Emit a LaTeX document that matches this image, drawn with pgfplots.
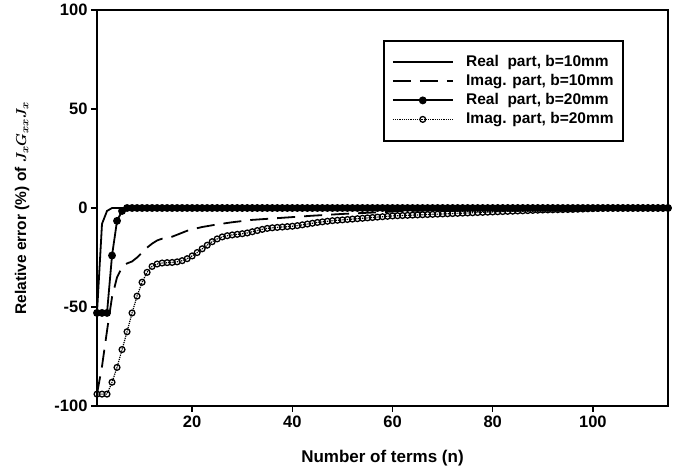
\documentclass[border=0pt]{standalone}
\usepackage{fontspec}
\setmainfont{Liberation Sans}
\usepackage{pgfplots}
\pgfplotsset{compat=1.18}
\usepackage{pgfplotstable}

% Real part (r20) and imaginary part (i20) for b=20mm, one row per term n
\pgfplotstableread{
n r20 i20
1 -53 -94
2 -53 -94
3 -53 -94
4 -24 -88
5 -6.5 -80.5
6 -1.5 -71.5
7 0 -62.5
8 0 -53
9 0 -44.5
10 0 -37.5
11 0 -32.5
12 0 -29.5
13 0 -28.3
14 0 -27.8
15 0 -27.6
16 0 -27.5
17 0 -27.2
18 0 -26.6
19 0 -25.6
20 0 -24.2
21 0 -22.5
22 0 -20.6
23 0 -18.8
24 0 -17.0
25 0 -15.6
26 0 -14.6
27 0 -14.0
28 0 -13.6
29 0 -13.3
30 0 -13.0
31 0 -12.6
32 0 -12.0
33 0 -11.4
34 0 -10.8
35 0 -10.3
36 0 -10.0
37 0 -9.8
38 0 -9.6
39 0 -9.4
40 0 -9.2
41 0 -8.9
42 0 -8.5
43 0 -8.1
44 0 -7.7
45 0 -7.3
46 0 -7.0
47 0 -6.7
48 0 -6.4
49 0 -6.2
50 0 -6.0
51 0 -5.8
52 0 -5.6
53 0 -5.4
54 0 -5.2
55 0 -5.0
56 0 -4.8
57 0 -4.6
58 0 -4.4
59 0 -4.2
60 0 -4.0
61 0 -3.9
62 0 -3.8
63 0 -3.7
64 0 -3.6
65 0 -3.5
66 0 -3.4
67 0 -3.3
68 0 -3.2
69 0 -3.1
70 0 -3.0
71 0 -2.9
72 0 -2.8
73 0 -2.7
74 0 -2.6
75 0 -2.5
76 0 -2.4
77 0 -2.3
78 0 -2.2
79 0 -2.1
80 0 -2.0
81 0 -1.9
82 0 -1.8
83 0 -1.7
84 0 -1.6
85 0 -1.5
86 0 -1.4
87 0 -1.3
88 0 -1.2
89 0 -1.1
90 0 -1.0
91 0 -0.95
92 0 -0.9
93 0 -0.85
94 0 -0.8
95 0 -0.75
96 0 -0.7
97 0 -0.6
98 0 -0.5
99 0 -0.4
100 0 -0.3
101 0 -0.2
102 0 -0.1
103 0 0
104 0 0
105 0 0
106 0 0
107 0 0
108 0 0
109 0 0
110 0 0
111 0 0
112 0 0
113 0 0
114 0 0
115 0 0
}\dataB

\begin{document}
\begin{tikzpicture}
\begin{axis}[
  scale only axis, width=571pt, height=396pt,
  xmin=1, xmax=115, ymin=-100, ymax=100,
  xtick={20,40,60,80,100}, ytick={-100,-50,0,50,100},
  tick align=outside, tick pos=left, major tick length=6pt,
  axis line style={line width=1.6pt},
  every tick/.style={line width=1.6pt, black},
  tick label style={font=\fontsize{16.5}{16.5}\selectfont\bfseries},
  /pgf/number format/assume math mode=true,
  xlabel={Number of terms (n)},
  ylabel={Relative error (\%) of {\boldmath$J_x G_{xx} J_x$}},
  xlabel style={font=\fontsize{17}{17}\selectfont\bfseries, at={(axis description cs:0.5,-0.131)}, anchor=center},
  ylabel style={font=\fontsize{15.5}{15.5}\selectfont\bfseries, at={(axis description cs:-0.131,0.5)}, anchor=center, rotate=0},
  clip=false,
  legend cell align=left,
  legend image code/.code={\draw[mark repeat=2,mark phase=2,#1] plot coordinates {(0pt,0pt) (30pt,0pt) (60pt,0pt)};},
  legend style={at={(0.501,0.924)}, anchor=north west, draw=black, line width=1.6pt,
    font=\fontsize{15.5}{15.5}\selectfont\bfseries, inner xsep=8pt, inner ysep=12pt,
    row sep=0pt,
    /tikz/every odd column/.append style={column sep=11pt},
    nodes={inner sep=1.5pt, text height=12pt, text depth=4pt}},
]
\addplot[black, line width=1.8pt] coordinates {(1,-53) (2,-8) (3,-1.5) (4,0) (115,0)};
\addlegendentry{Real\ \ part, b=10mm}
\addplot[black, line width=1.8pt, dash pattern=on 18pt off 9pt] coordinates {
(1,-94) (2,-80) (3,-62) (4,-45) (5,-35) (6,-30) (7,-28) (8,-27) (9,-25) (10,-22.5)
(11,-20) (12,-18) (13,-16.4) (14,-15.5) (15,-15) (16,-14.5) (17,-13.5) (18,-12.5)
(19,-11.5) (20,-10.8) (22,-9.6) (25,-8.3) (28,-7.2) (32,-6) (36,-5.3) (40,-4.6)
(44,-3.9) (50,-3) (56,-2.3) (62,-1.6) (70,-1) (80,-0.6) (90,-0.3) (100,-0.1) (115,0)};
\addlegendentry{Imag. part, b=10mm}
\addplot[black, line width=1.8pt, mark=*, mark size=3pt, mark options={solid, fill=black}] table[x=n, y=r20] {\dataB};
\addlegendentry{Real\ \ part, b=20mm}
\addplot[black, line width=1.2pt, densely dotted, mark=o, mark size=2.9pt, mark options={solid, line width=1.3pt, fill=white}] table[x=n, y=i20] {\dataB};
\addlegendentry{Imag. part, b=20mm}
\end{axis}
\path (current axis.south west) ++(-97pt,-70pt) rectangle ++(678pt,476pt);
\end{tikzpicture}
\end{document}
